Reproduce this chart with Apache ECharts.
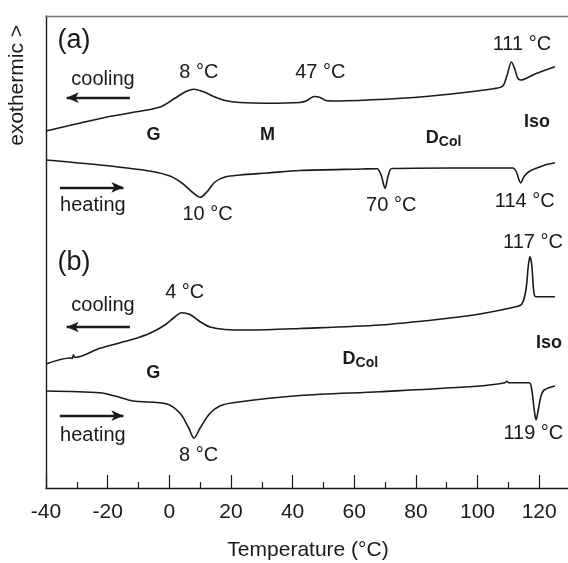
<!DOCTYPE html>
<html>
<head>
<meta charset="utf-8">
<script src="https://cdn.jsdelivr.net/npm/echarts@6/dist/echarts.min.js"></script>
<style>
  html, body { margin: 0; padding: 0; background: #fff; }
  #chart { width: 568px; height: 563px; }
</style>
</head>
<body>
<div id="chart"></div>
<script>
// DSC traces: temperature (°C) and heat-flow signal (arbitrary units, exothermic up)
const aCoolT = [-40, -30.3, -20.2, -12.8, -3, 1.8, 5.1, 8, 11.3, 14.8, 18.1, 22.9, 31.7, 42.4, 44.7, 47, 48.9, 50.8, 53.7, 68.3, 81.3, 94.3, 105.6, 108.2, 109.6, 111, 112.2, 113, 114, 118.6, 125.1];
const aCoolY = [357, 364, 371, 375, 381, 389.7, 396, 398.7, 396, 391, 387.5, 385.5, 384.7, 385.5, 387.5, 391.5, 390.5, 387.5, 387, 388.5, 391, 395, 399.5, 402, 413, 426, 418, 410, 408, 414, 421.3];

const aHeatT = [-40, -22.5, -6.3, 0.2, 4.1, 7.4, 10, 12.2, 14.8, 18.1, 22.9, 31.7, 42.4, 62.8, 67.4, 68.7, 70, 71, 72.2, 91, 111.5, 112.6, 114, 115.2, 117, 121.9, 125.1];
const aHeatY = [328, 323, 317, 312, 305, 296, 290.7, 296, 306, 311, 313, 315, 317.5, 319, 319.3, 313, 299.7, 312, 319.5, 320, 320, 316, 305.3, 312, 317, 323, 325.3];

const bCoolT = [-40, -32.2, -31.5, -31.1, -30.6, -22.5, -11.8, -6.3, -1.4, 1.8, 4, 6.7, 10, 13.2, 18.1, 26.2, 42.4, 68.3, 91, 100.8, 112.1, 114.4, 115.7, 116.5, 117, 117.6, 118.2, 118.9, 125.1];
const bCoolY = [124, 130, 129.5, 133, 130.5, 139.7, 148.7, 154.7, 163, 171, 175.3, 173.5, 166.3, 161, 158.5, 158, 159.5, 163, 170, 174, 181, 184, 198, 223, 231.3, 223, 198, 191.3, 191.3];

const bHeatT = [-40, -22.5, -17.6, -11.8, -0.8, 3.5, 6.3, 8, 10, 13.2, 16.4, 20.7, 42.4, 68.3, 100.8, 108.9, 109.5, 110.1, 116.8, 117.6, 118.4, 119, 119.7, 120.6, 121.6, 125.1];
const bHeatY = [97, 95.3, 92, 87, 84, 74.7, 60, 49.7, 60, 74.7, 82, 85.3, 92.5, 96.3, 102, 105.3, 106.7, 105.3, 105.3, 98, 78, 68, 78, 92, 98, 102];

// Axis
const xMin = -40, xMax = 130, xStep = 20;
const xTitle = 'Temperature (\u00B0C)';
const yTitle = 'exothermic >';

// Text annotations: [text, temperature, signal, kind]
const notes = [
  ['(a)', -30.9, 447, 'panel'],
  ['cooling', -21.5, 409, 'dir'],
  ['heating', -24.8, 283, 'dir'],
  ['8 \u00B0C', 9.6, 416, 'peak'],
  ['10 \u00B0C', 12.4, 274, 'peak'],
  ['47 \u00B0C', 49, 415.5, 'peak'],
  ['111 \u00B0C', 114.4, 444, 'peak'],
  ['70 \u00B0C', 72, 283, 'peak'],
  ['114 \u00B0C', 115.3, 287, 'peak'],
  ['G', -5.1, 353, 'phase'],
  ['M', 31.9, 353, 'phase'],
  ['D{sub|Col}', 89, 350, 'phase'],
  ['Iso', 119.3, 365.5, 'phase'],
  ['(b)', -30.9, 225, 'panel'],
  ['cooling', -21.5, 183, 'dir'],
  ['heating', -24.8, 52.5, 'dir'],
  ['4 \u00B0C', 5, 195.5, 'peak'],
  ['117 \u00B0C', 118, 246, 'peak'],
  ['8 \u00B0C', 9.5, 32.5, 'peak'],
  ['119 \u00B0C', 118.1, 55, 'peak'],
  ['G', -5.2, 115, 'phase'],
  ['D{sub|Col}', 62, 129, 'phase'],
  ['Iso', 123.2, 145, 'phase']
];

// Scan-direction arrows: [fromT, toT, signal]
const arrows = [
  [-12.8, -33.3, 390.3],
  [-35.5, -14.9, 300.7],
  [-12.8, -33.3, 161],
  [-35.5, -14.9, 72.3]
];

const FONT = '"Liberation Sans", Arial, Helvetica, sans-serif';
const INK = '#1a1a1a';

const styles = {
  panel: { fontSize: 27, fontWeight: 'normal' },
  dir:   { fontSize: 20, fontWeight: 'normal' },
  peak:  { fontSize: 20, fontWeight: 'normal' },
  phase: { fontSize: 18, fontWeight: 'bold' }
};

function pairs(t, y) { return t.map((v, i) => [v, y[i]]); }

function trace(name, t, y) {
  return {
    name, type: 'line', data: pairs(t, y), smooth: 0.3, showSymbol: false, symbol: 'none',
    lineStyle: { color: INK, width: 1.6 }, silent: true, animation: false, z: 3
  };
}

const chart = echarts.init(document.getElementById('chart'), null, { renderer: 'canvas' });

chart.setOption({
  animation: false,
  backgroundColor: '#fff',
  textStyle: { fontFamily: FONT, color: INK },
  grid: { left: 46, top: 16, right: -2, bottom: 75, containLabel: false, outerBoundsMode: 'none' },
  xAxis: [{
    type: 'value', min: xMin, max: xMax, interval: xStep,
    name: xTitle, nameLocation: 'middle', nameGap: 52,
    nameTextStyle: { fontSize: 21, color: INK, fontFamily: FONT },
    axisLine: { show: true, onZero: false, lineStyle: { color: INK, width: 1.4 } },
    axisTick: { show: true, inside: true, length: 13, lineStyle: { color: INK, width: 1.2 } },
    minorTick: { show: true, splitNumber: 2, length: 6, lineStyle: { color: INK, width: 1.2 } },
    axisLabel: { fontSize: 21, color: INK, margin: 14, showMaxLabel: false, fontFamily: FONT },
    splitLine: { show: false }
  }, {
    type: 'value', position: 'top', min: xMin, max: xMax,
    axisLine: { show: true, onZero: false, lineStyle: { color: '#777', width: 1.4 } },
    axisTick: { show: false }, axisLabel: { show: false }, splitLine: { show: false }
  }],
  yAxis: {
    type: 'value', min: 0, max: 472,
    axisLine: { show: true, onZero: false, lineStyle: { color: INK, width: 1.4 } },
    axisTick: { show: false }, axisLabel: { show: false }, splitLine: { show: false }
  },
  graphic: [{
    type: 'text', left: 7, top: 25, silent: true,
    style: { text: yTitle, fill: INK, font: '21px ' + FONT, textAlign: 'left', textVerticalAlign: 'top' },
    rotation: Math.PI / 2
  }],
  series: [
    trace('a-cooling', aCoolT, aCoolY),
    trace('a-heating', aHeatT, aHeatY),
    trace('b-cooling', bCoolT, bCoolY),
    trace('b-heating', bHeatT, bHeatY),
    {
      name: 'notes', type: 'scatter', symbolSize: 0, silent: true, z: 5,
      itemStyle: { opacity: 1 },
      data: notes.map(n => ({
        value: [n[1], n[2]],
        label: {
          show: true, position: 'inside', formatter: n[0], color: INK, fontFamily: FONT,
          fontSize: styles[n[3]].fontSize, fontWeight: styles[n[3]].fontWeight,
          rich: { sub: { fontSize: 14, fontWeight: 'bold', fontFamily: FONT, color: INK, padding: [9, 0, 0, 0] } }
        }
      })),
      markLine: {
        silent: true, symbol: ['none', 'arrow'], symbolSize: [8, 12],
        label: { show: false },
        lineStyle: { color: INK, width: 2.4, type: 'solid', opacity: 1 },
        emphasis: { disabled: true },
        data: arrows.map(a => [{ coord: [a[0], a[2]] }, { coord: [a[1], a[2]] }])
      }
    }
  ]
});
</script>
</body>
</html>
